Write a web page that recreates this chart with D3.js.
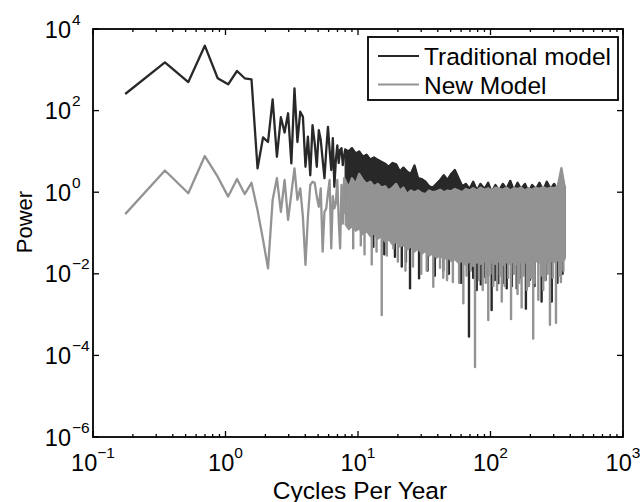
<!DOCTYPE html>
<html><head><meta charset="utf-8">
<script src="https://cdn.jsdelivr.net/npm/d3@7"></script>
<style>
body{margin:0;background:#fff}
text{font-family:"Liberation Sans",Arial,Helvetica,sans-serif;fill:#000}
</style>
</head><body>
<svg id="c" width="644" height="502"></svg>
<script>
// ---------- data ----------
// low-frequency part: individual periodogram points (cycles per year)
const sparseFreq = [0.175,0.349,0.524,0.698,0.873,1.047,1.222,1.396,1.571,1.745,1.920,2.094,2.269,2.443,2.618,2.792,2.967,3.141,3.316,3.490,3.665,3.839,4.014,4.188,4.363,4.537,4.712,4.886,5.061,5.235,5.410,5.584,5.759,5.933,6.108,6.282,6.457,6.631,6.806,6.980,7.155,7.329,7.504,7.678,7.853];
const tradSparse = [255,1525,500,3900,620,440,935,620,585,3.85,22,17,189,7.4,69,29,86,5.1,352,17,94,71,4.2,23,2.6,44,16,4.2,33,19,6.2,2.2,10.8,40,10.8,3.5,21,1.36,6.2,14,5.2,10.8,12,4.6,7.7];
const newSparse  = [0.29,3.4,0.94,7.7,2.4,0.78,2.1,0.9,1.7,0.36,0.068,0.0136,0.65,2.2,0.33,2.0,0.21,0.94,3.85,0.65,1.24,0.25,0.0166,0.25,1.5,1.8,1.7,0.78,0.44,1.24,0.035,0.33,0.4,0.94,2.0,0.042,0.8,0.4,0.54,2.0,0.2,0.042,1.5,0.17,2.2];

// high-frequency part: dense oscillation, read as upper edge and solid lower edge
const denseFreq = [8,8.5,9,9.6,10.2,10.9,11.6,12.4,13.2,14.1,15,16,17,18.2,19.4,20.7,22,23.5,25,26.7,28.4,30.3,32.3,34.4,36.7,39.1,41.7,44.4,47.4,50.5,53.8,57.4,61.2,65.2,69.5,74,79,84,90,96,102,109,116,124,132,141,150,160,170,182,194,206,220,234,250,266,284,302,322,343,365];
const tradHigh  = [11.2,10,12,8.9,10,7.4,8.3,6.3,7.1,6.2,5.6,5.0,4.2,5.2,4.8,3.2,4.0,3.2,2.8,4.5,2.2,2.1,1.8,1.4,1.3,1.6,2.0,2.6,2.0,2.8,3.5,2.2,1.4,1.6,1.2,1.8,1.1,1.6,1.2,1.7,1.0,1.5,1.1,1.6,1.2,1.9,1.1,1.7,1.2,1.6,1.0,1.5,1.2,1.7,1.1,1.8,1.2,1.6,1.1,1.7,1.3];
const tradFloor = [0.3,0.28,0.25,0.23,0.2,0.18,0.16,0.15,0.13,0.12,0.11,0.1,0.09,0.085,0.08,0.075,0.07,0.065,0.06,0.055,0.05,0.048,0.045,0.042,0.04,0.038,0.036,0.034,0.032,0.03,0.029,0.028,0.027,0.026,0.025,0.025,0.024,0.025,0.026,0.025,0.024,0.025,0.026,0.025,0.024,0.025,0.026,0.025,0.024,0.025,0.026,0.025,0.024,0.025,0.026,0.025,0.024,0.025,0.026,0.025,0.025];
const newHigh   = [2.0,1.3,2.2,1.6,2.8,2.0,1.6,1.8,1.4,1.6,1.3,1.4,1.1,1.3,1.6,1.1,1.3,0.9,1.1,1.0,1.1,0.95,0.9,1.1,1.0,1.05,1.15,1.0,1.1,1.05,1.2,1.1,1.0,1.2,1.1,1.25,1.1,1.3,1.15,1.25,1.1,1.3,1.2,1.15,1.3,1.1,1.25,1.2,1.3,1.1,1.25,1.15,1.3,1.2,1.35,1.2,1.3,1.25,1.4,3.9,1.2];
const newFloor  = [0.16,0.12,0.14,0.11,0.125,0.09,0.11,0.08,0.095,0.07,0.08,0.06,0.07,0.05,0.06,0.045,0.05,0.038,0.045,0.034,0.04,0.03,0.035,0.027,0.031,0.024,0.028,0.022,0.025,0.02,0.022,0.018,0.02,0.016,0.02,0.015,0.019,0.017,0.02,0.015,0.019,0.017,0.02,0.016,0.019,0.017,0.02,0.016,0.019,0.018,0.021,0.017,0.02,0.018,0.021,0.017,0.02,0.019,0.021,0.02,0.022];

// deep downward spikes
const tradSpikeFreq = [13.05,15.8,19.0,21.4,23,24.7,28.9,33.5,38,44,48.5,55.6,60,68.8,74,78.7,84.5,90.9,96,102,108,114.5,125,132.5,145,157.7,170,185,198.6,215,243,260,290,320,350];
const tradSpikeVal  = [0.046,0.03,0.026,0.015,0.02,0.0044,0.0078,0.012,0.009,0.012,0.01,0.026,0.006,0.00029,0.008,0.004,0.0055,0.0085,0.009,0.0013,0.007,0.0059,0.006,0.0044,0.005,0.0044,0.008,0.0014,0.0071,0.005,0.0021,0.007,0.0021,0.006,0.01];
const newSpikeFreq  = [9.2,10.5,11.2,12.7,13.8,15.1,16.5,18.5,20,22.8,26,30,33,37,41.6,44,47,52,58,62.4,66,71,76.4,82,87.3,92,96.2,100,105,112,118,121.6,128,136,142.9,150,160,165,171.8,178,188,195,202,210,215,229.6,240,250,258,270,281,295,312,330,340,355];
const newSpikeVal   = [0.042,0.05,0.03,0.017,0.035,0.00098,0.028,0.042,0.02,0.012,0.015,0.01,0.012,0.0048,0.014,0.008,0.007,0.0063,0.006,0.0019,0.009,0.012,0.000052,0.007,0.004,0.006,0.00074,0.01,0.005,0.004,0.009,0.0021,0.005,0.008,0.00078,0.01,0.0032,0.006,0.0015,0.009,0.004,0.005,0.008,0.00026,0.006,0.0023,0.009,0.004,0.007,0.01,0.00056,0.008,0.00063,0.009,0.0063,0.012];

const xTickExp = [-1,0,1,2,3];
const yTickExp = [-6,-4,-2,0,2,4];
const seriesNames = ["Traditional model","New Model"];
const seriesColors = ["#282828","#939393"];

// ---------- chart ----------
const svg = d3.select("#c");
const M = {l:93, r:623, t:29, b:437};
const x = d3.scaleLog().domain([0.1,1000]).range([M.l,M.r]);
const y = d3.scaleLog().domain([1e-6,1e4]).range([M.b,M.t]);

svg.append("defs").append("clipPath").attr("id","plotclip")
  .append("rect").attr("x",M.l).attr("y",M.t).attr("width",M.r-M.l).attr("height",M.b-M.t);

const g = svg.append("g").attr("clip-path","url(#plotclip)");
const line = d3.line().x(d=>x(d[0])).y(d=>y(d[1]));
const area = d3.area().x(d=>x(d[0])).y0(d=>y(d[2])).y1(d=>y(d[1]));
const spikeTop = 0.3;

function drawSeries(sparseVals, hi, lo, sf, sv, color){
  const lw = 2.3;
  g.append("path").datum(d3.zip(denseFreq, hi, lo))
    .attr("d", area).attr("fill", color).attr("stroke", color).attr("stroke-width", 1.2)
    .attr("stroke-linejoin","round");
  const pts = d3.zip(sparseFreq, sparseVals).concat(d3.zip(denseFreq, hi));
  g.append("path").datum(pts).attr("d", line)
    .attr("fill","none").attr("stroke", color).attr("stroke-width", lw)
    .attr("stroke-linejoin","round");
  g.selectAll(null).data(d3.zip(sf, sv)).join("line")
    .attr("x1", d=>x(d[0])).attr("x2", d=>x(d[0]))
    .attr("y1", y(spikeTop)).attr("y2", d=>y(d[1]))
    .attr("stroke", color).attr("stroke-width", 2.4).attr("stroke-linecap","round");
}
drawSeries(tradSparse, tradHigh, tradFloor, tradSpikeFreq, tradSpikeVal, seriesColors[0]);
drawSeries(newSparse, newHigh, newFloor, newSpikeFreq, newSpikeVal, seriesColors[1]);

// axes box
const ax = svg.append("g");
ax.append("rect").attr("x",M.l).attr("y",M.t).attr("width",M.r-M.l).attr("height",M.b-M.t)
  .attr("fill","none").attr("stroke","#000").attr("stroke-width",1.8);

const xMinor = [];
for (let e=-1;e<3;e++) for (let m=2;m<10;m++) xMinor.push(m*Math.pow(10,e));
const xMajor = xTickExp.map(e=>Math.pow(10,e));
[[M.b,-1],[M.t,1]].forEach(([yy,dir])=>{
  ax.selectAll(null).data(xMajor).join("line")
    .attr("x1",d=>x(d)).attr("x2",d=>x(d)).attr("y1",yy).attr("y2",yy+dir*6)
    .attr("stroke","#000").attr("stroke-width",1.3);
  ax.selectAll(null).data(xMinor).join("line")
    .attr("x1",d=>x(d)).attr("x2",d=>x(d)).attr("y1",yy).attr("y2",yy+dir*3)
    .attr("stroke","#000").attr("stroke-width",1.3);
});
const yMajor = yTickExp.map(e=>Math.pow(10,e));
[[M.l,1],[M.r,-1]].forEach(([xx,dir])=>{
  ax.selectAll(null).data(yMajor).join("line")
    .attr("y1",d=>y(d)).attr("y2",d=>y(d)).attr("x1",xx).attr("x2",xx+dir*6)
    .attr("stroke","#000").attr("stroke-width",1.3);
});

// tick labels
const fs = 23.5, sfs = 15.5;
const expText = e => String(e).replace("-","\u2212");
xTickExp.forEach(e=>{
  const t = ax.append("text").attr("x", x(Math.pow(10,e))).attr("y", 471)
    .attr("text-anchor","middle").attr("font-size",fs);
  t.append("tspan").text("10");
  t.append("tspan").attr("font-size",sfs).attr("dy",-13).text(expText(e));
});
yTickExp.forEach(e=>{
  const yy = y(Math.pow(10,e));
  ax.append("text").attr("x", 71).attr("y", yy+8.5)
    .attr("text-anchor","end").attr("font-size",fs).text("10");
  ax.append("text").attr("x", 72).attr("y", yy-4.5)
    .attr("text-anchor","start").attr("font-size",sfs).text(expText(e));
});

// axis titles
svg.append("text").attr("x",360).attr("y",498.5).attr("text-anchor","middle")
  .attr("font-size",24.5).text("Cycles Per Year");
svg.append("text").attr("transform","translate(32,222) rotate(-90)").attr("text-anchor","middle")
  .attr("font-size",22).text("Power");

// legend
const lg = svg.append("g");
lg.append("rect").attr("x",368).attr("y",37).attr("width",250).attr("height",63)
  .attr("fill","#fff").attr("stroke","#000").attr("stroke-width",1.8);
seriesNames.forEach((n,i)=>{
  const ly = 56 + i*28.5;
  lg.append("line").attr("x1",378).attr("x2",419).attr("y1",ly).attr("y2",ly)
    .attr("stroke",seriesColors[i]).attr("stroke-width",2.2);
  lg.append("text").attr("x",424).attr("y",ly+9).attr("font-size",24.5).text(n);
});
</script>
</body></html>
